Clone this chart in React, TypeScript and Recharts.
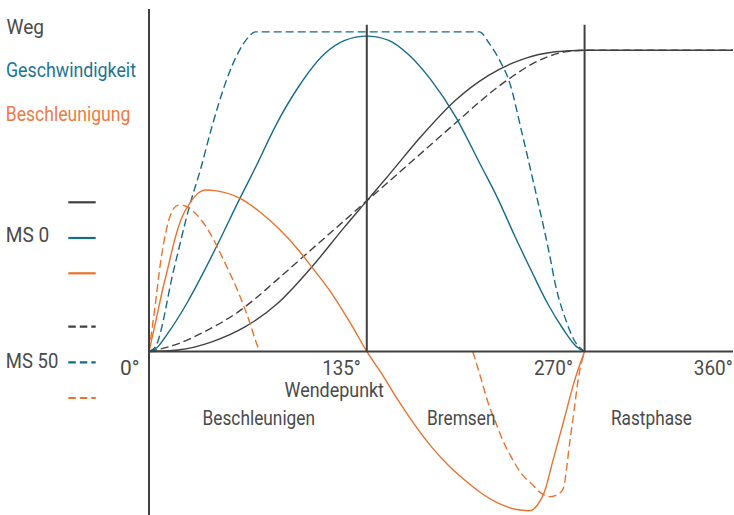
import React from 'react';
import { LineChart, Line, XAxis, YAxis, ReferenceLine, ReferenceDot } from 'recharts';

// x = crank angle in degrees, y = value in % of stroke (chart units)
const wegMS0 = [[0,0],[18,0.5],[39,3.2],[60,8.3],[80,16.1],[101,28.1],[121,41.2],[135,50],[149,58.8],[169,71.6],[190,83.4],[210,91.5],[231,96.9],[252,99.5],[270,100],[362,100]];
const wegMS50 = [[0,0],[15,2],[36,7],[57,13.8],[66,17.6],[80,24.1],[101,34],[121,43.4],[135,50],[154,58.9],[175,68.8],[195,78.2],[205,82.9],[215,87.3],[225,91.2],[237,95.3],[247,97.8],[257,99.4],[270,100],[362,100]];
const velMS0 = [[0,0],[5,1.3],[11,5.5],[24,16.5],[34,26.5],[42,35],[56.5,51],[65,60],[80,76.5],[92.6,87.8],[109,98.9],[121.4,103.3],[135,104.7],[148.6,103.3],[161,98.5],[175,90],[190,78],[205,62.5],[216,51],[227,38],[237,26.8],[247,16],[257,7.2],[265,1.6],[270,0]];
const velMS50 = [[0,0],[4,1.6],[15.3,27],[25.6,49.2],[31.8,60.2],[39,74.6],[47.3,89],[55.5,99.4],[61.7,104.4],[65.8,106.1],[204.8,106.1],[211,102.2],[217,97],[223.4,89.5],[231,73],[238.8,55],[248.1,32.6],[252.2,21.5],[258.4,10.4],[263.5,3.8],[270,0]];
const accMS0 = [[0,0],[4,9.5],[8,19.5],[11.6,27.5],[16.4,38],[20,44],[25.6,49.5],[30.8,52.7],[34.9,53.6],[42,53.3],[56.5,50.8],[69.9,45.8],[80.2,40.9],[92.6,33.7],[100.8,28.1],[113.2,19.3],[125.5,8.8],[135,0],[144,-7.2],[154.3,-16.1],[164.7,-24.4],[175,-31.6],[185.2,-37.6],[195.5,-42.6],[205.9,-47],[216.1,-50.3],[226.4,-52.3],[235.7,-52.9],[240.9,-50.9],[245.2,-46.5],[250.5,-36],[257.8,-21.6],[263.3,-10.5],[270,0]];
const accMS50 = [[0,0],[4,16],[7.1,29.3],[11.2,41.4],[15.3,47.5],[18.4,48.6],[22.6,48.3],[27.7,46.4],[36,40.9],[47,29.5],[55.5,19.5],[61.7,10.8],[67.8,1.2],[69,0],[135,null],[200.7,0],[204.8,-7.2],[211,-18.3],[215.1,-23.8],[219.2,-29.4],[224.4,-34.9],[230.6,-40.4],[238.8,-44.8],[242.9,-47],[249.1,-48.2],[252.2,-47.8],[256.5,-45.9],[261,-29.4],[263.8,-18.3],[266.3,-8.4],[270,0]];

const xTicks = [0, 135, 270, 360];
const xTickLabels = ['0°', '135°', '270°', '360°'];
const phaseLines = [135, 270];

const GRAY = '#404040';
const TEAL = '#156b8a';
const ORANGE = '#e9722e';
const TEXT = '#4a4a4a';
const FONT = 'Roboto, sans-serif';

const toPts = (arr: (number | null)[][]) => arr.map(([x, y]) => ({ x, y }));

const tickDx = [-9.5, -6, -11.6, 3];
const tickW = [19.5, 38.5, 39, 39];

const TickLabel = (props: any) => {
  const { viewBox, idx } = props;
  if (!viewBox) return null;
  return (
    <text x={viewBox.x + tickDx[idx]} y={viewBox.y + 23.5} textAnchor="end" fontFamily={FONT} fontSize={20}
      fill={TEXT} textLength={tickW[idx]} lengthAdjust="spacingAndGlyphs">
      {xTickLabels[idx]}
    </text>
  );
};

const T = ({ x, y, w, fill = TEXT, children }: any) => (
  <text x={x} y={y} fontFamily={FONT} fontSize={20} fill={fill} textLength={w} lengthAdjust="spacingAndGlyphs">{children}</text>
);

export default function App() {
  return (
    <div style={{ position: 'absolute', left: 0, top: 0, width: 734, height: 515, background: '#fff' }}>
      <LineChart width={734} height={515} data={toPts(wegMS0)} margin={{ top: 9, right: 1, bottom: 0, left: 149 }}>
        <XAxis type="number" dataKey="x" domain={[0, 362]} allowDataOverflow hide ticks={xTicks} />
        <YAxis type="number" domain={[-54.3, 113.7]} allowDataOverflow hide />
        <Line data={toPts(wegMS0)} dataKey="y" type="monotone" stroke={GRAY} strokeWidth={1.4} dot={false} activeDot={false} isAnimationActive={false} />
        <Line data={toPts(wegMS50)} dataKey="y" type="monotone" stroke={GRAY} strokeWidth={1.4} strokeDasharray="8 4" dot={false} activeDot={false} isAnimationActive={false} />
        <Line data={toPts(velMS0)} dataKey="y" type="monotone" stroke={TEAL} strokeWidth={1.4} dot={false} activeDot={false} isAnimationActive={false} />
        <Line data={toPts(velMS50)} dataKey="y" type="monotone" stroke={TEAL} strokeWidth={1.4} strokeDasharray="8 4" dot={false} activeDot={false} isAnimationActive={false} />
        <Line data={toPts(accMS0)} dataKey="y" type="monotone" stroke={ORANGE} strokeWidth={1.4} dot={false} activeDot={false} isAnimationActive={false} />
        <Line data={toPts(accMS50)} dataKey="y" type="monotone" stroke={ORANGE} strokeWidth={1.4} strokeDasharray="8 4" dot={false} activeDot={false} isAnimationActive={false} connectNulls={false} />
        <ReferenceLine x={0} stroke={GRAY} strokeWidth={2} />
        <ReferenceLine y={0} stroke={GRAY} strokeWidth={2} />
        {phaseLines.map((p) => (
          <ReferenceLine key={p} segment={[{ x: p, y: 0 }, { x: p, y: 108.5 }]} stroke={GRAY} strokeWidth={2} />
        ))}
        {xTicks.map((t, i) => (
          <ReferenceDot key={'t' + t} x={t} y={0} r={0} stroke="none" fill="none" label={<TickLabel idx={i} />} />
        ))}
      </LineChart>
      <svg width={734} height={515} style={{ position: 'absolute', left: 0, top: 0, pointerEvents: 'none' }}>
        <T x={6.5} y={34} w={37.5}>Weg</T>
        <T x={6} y={76.7} w={130} fill="#1f7393">Geschwindigkeit</T>
        <T x={5.8} y={120.7} w={124.5} fill="#ed7a42">Beschleunigung</T>
        <T x={5.8} y={242.3} w={43.5}>MS 0</T>
        <T x={5.8} y={368.3} w={52.5}>MS 50</T>
        <T x={284.5} y={396.7} w={99.5}>Wendepunkt</T>
        <T x={202.5} y={425} w={112.5}>Beschleunigen</T>
        <T x={427} y={425} w={68.5}>Bremsen</T>
        <T x={611} y={424.5} w={81}>Rastphase</T>
        <line x1={68.3} x2={95.7} y1={202.3} y2={202.3} stroke={GRAY} strokeWidth={2.2} />
        <line x1={68.3} x2={95.7} y1={238} y2={238} stroke={TEAL} strokeWidth={2.2} />
        <line x1={68.3} x2={95.7} y1={273.3} y2={273.3} stroke={ORANGE} strokeWidth={2.2} />
        <line x1={68.3} x2={95.7} y1={326.7} y2={326.7} stroke={GRAY} strokeWidth={2.2} strokeDasharray="7.5 4" />
        <line x1={68.3} x2={95.7} y1={362.3} y2={362.3} stroke={TEAL} strokeWidth={2.2} strokeDasharray="7.5 4" />
        <line x1={68.3} x2={95.7} y1={398} y2={398} stroke={ORANGE} strokeWidth={2.2} strokeDasharray="7.5 4" />
      </svg>
    </div>
  );
}
